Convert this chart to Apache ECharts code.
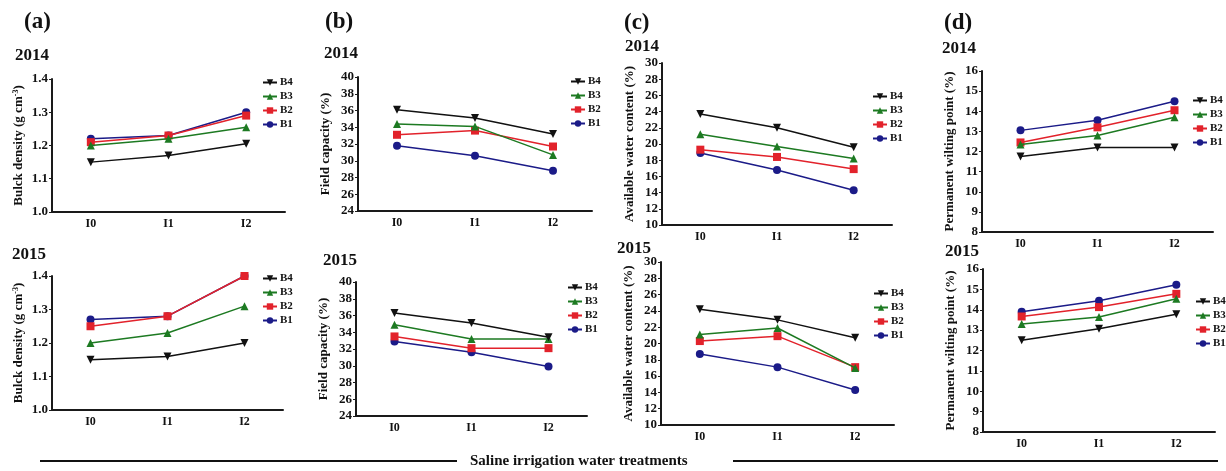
<!DOCTYPE html>
<html>
<head>
<meta charset="utf-8">
<script src="https://cdn.jsdelivr.net/npm/echarts@6/dist/echarts.min.js"></script>
<style>
  html, body { margin: 0; padding: 0; background: #fff; }
  #chart { width: 1226px; height: 471px; }
</style>
</head>
<body>
<div id="chart"></div>
<script>
// categories and series (order B4, B3, B2, B1)
const categories = ['I0', 'I1', 'I2']
const seriesNames = ['B4', 'B3', 'B2', 'B1']

// (a) bulk density, g cm-3
const bulk2014 = [
  [1.15, 1.17, 1.205],
  [1.20, 1.22, 1.255],
  [1.21, 1.23, 1.29],
  [1.22, 1.23, 1.30]
]
const bulk2015 = [
  [1.15, 1.16, 1.20],
  [1.20, 1.23, 1.31],
  [1.25, 1.28, 1.40],
  [1.27, 1.28, 1.40]
]
// (b) field capacity, %
const field2014 = [
  [36.1, 35.1, 33.2],
  [34.4, 34.1, 30.7],
  [33.1, 33.6, 31.7],
  [31.8, 30.6, 28.8]
]
const field2015 = [
  [36.3, 35.1, 33.4],
  [34.9, 33.2, 33.2],
  [33.5, 32.1, 32.1],
  [32.9, 31.6, 29.9]
]
// (c) available water content, %
const awc2014 = [
  [23.7, 22.0, 19.6],
  [21.2, 19.7, 18.2],
  [19.3, 18.4, 16.9],
  [18.9, 16.8, 14.3]
]
const awc2015 = [
  [24.2, 22.9, 20.7],
  [21.1, 21.9, 17.0],
  [20.3, 20.9, 17.1],
  [18.7, 17.1, 14.3]
]
// (d) permanent wilting point, %
const pwp2014 = [
  [11.75, 12.2, 12.2],
  [12.35, 12.8, 13.7],
  [12.45, 13.2, 14.05],
  [13.05, 13.55, 14.5]
]
const pwp2015 = [
  [12.5, 13.07, 13.78],
  [13.3, 13.64, 14.54],
  [13.67, 14.13, 14.78],
  [13.9, 14.44, 15.23]
]

const colors = ['#111111', '#1d7a22', '#e2222b', '#1b1b88']
const symbols = ['triangle', 'triangle', 'rect', 'circle']
const rotations = [180, 0, 0, 0]
const font = "'Liberation Serif', 'DejaVu Serif', serif"

const panels = [
  { data: bulk2014, min: 1.0, max: 1.4, interval: 0.1, dec: 1, name: 'Bulck density (g cm{sup|-3})',
    grid: { left: 52, top: 79, width: 233, height: 133 }, legend: { left: 262, top: 77 } },
  { data: bulk2015, min: 1.0, max: 1.4, interval: 0.1, dec: 1, name: 'Bulck density (g cm{sup|-3})',
    grid: { left: 52, top: 276, width: 231, height: 134 }, legend: { left: 262, top: 273 } },
  { data: field2014, min: 24, max: 40, interval: 2, dec: 0, name: 'Field capacity (%)',
    grid: { left: 358, top: 77, width: 234, height: 134 }, legend: { left: 570, top: 76 } },
  { data: field2015, min: 24, max: 40, interval: 2, dec: 0, name: 'Field capacity (%)',
    grid: { left: 356, top: 282, width: 231, height: 134 }, legend: { left: 567, top: 282 } },
  { data: awc2014, min: 10, max: 30, interval: 2, dec: 0, name: 'Available water content (%)',
    grid: { left: 662, top: 63, width: 230, height: 162 }, legend: { left: 872, top: 91 } },
  { data: awc2015, min: 10, max: 30, interval: 2, dec: 0, name: 'Available water content (%)',
    grid: { left: 661, top: 262, width: 233, height: 163 }, legend: { left: 873, top: 288 } },
  { data: pwp2014, min: 8, max: 16, interval: 1, dec: 0, name: 'Permanent wilting point (%)',
    grid: { left: 982, top: 71, width: 231, height: 161 }, legend: { left: 1192, top: 95 } },
  { data: pwp2015, min: 8, max: 16, interval: 1, dec: 0, name: 'Permanent wilting point (%)',
    grid: { left: 983, top: 269, width: 232, height: 163 }, legend: { left: 1195, top: 296 } }
]

const grid = []
const xAxis = []
const yAxis = []
const legend = []
const series = []

panels.forEach((p, i) => {
  grid.push(Object.assign({ containLabel: false }, p.grid))
  xAxis.push({
    type: 'category',
    gridIndex: i,
    data: categories,
    boundaryGap: true,
    axisLine: { lineStyle: { color: '#1a1a1a', width: 2 } },
    axisTick: { alignWithLabel: true, length: 3, lineStyle: { color: '#1a1a1a' } },
    axisLabel: { margin: 6, color: '#111', fontFamily: font, fontWeight: 'bold', fontSize: 12 }
  })
  yAxis.push({
    type: 'value',
    gridIndex: i,
    min: p.min,
    max: p.max,
    interval: p.interval,
    name: p.name,
    nameLocation: 'middle',
    nameGap: 26,
    nameTextStyle: {
      color: '#111', fontFamily: font, fontWeight: 'bold', fontSize: 13,
      rich: { sup: { fontSize: 8, fontFamily: font, fontWeight: 'bold', color: '#111', verticalAlign: 'top', padding: [0, 0, 6, 0] } }
    },
    splitLine: { show: false },
    axisLine: { show: true, lineStyle: { color: '#1a1a1a', width: 2 } },
    axisTick: { show: true, length: 3, lineStyle: { color: '#1a1a1a' } },
    axisLabel: {
      margin: 4, color: '#111', fontFamily: font, fontWeight: 'bold', fontSize: 13,
      formatter: v => v.toFixed(p.dec)
    }
  })
  legend.push({
    data: seriesNames,
    orient: 'vertical',
    left: p.legend.left,
    top: p.legend.top,
    itemWidth: 14,
    itemHeight: 8,
    itemGap: 3,
    padding: 0,
    selectedMode: false,
    textStyle: { color: '#111', fontFamily: font, fontWeight: 'bold', fontSize: 11, lineHeight: 9, padding: [0, 0, 0, -2] }
  })
  p.data.forEach((vals, k) => {
    series.push({
      name: seriesNames[k],
      type: 'line',
      xAxisIndex: i,
      yAxisIndex: i,
      data: vals,
      symbol: symbols[k],
      symbolRotate: rotations[k],
      symbolSize: 8,
      showAllSymbol: true,
      color: colors[k],
      lineStyle: { color: colors[k], width: 1.5 },
      itemStyle: { color: colors[k] },
      animation: false,
      z: 10 - k
    })
  })
})

const titleStyle = (text, x, y, size) => ({
  type: 'text',
  left: x,
  top: y,
  style: { text: text, fill: '#111', font: `bold ${size}px ${font}` }
})

const graphic = [
  titleStyle('(a)', 24, 11, 23),
  titleStyle('(b)', 325, 11, 23),
  titleStyle('(c)', 624, 12, 23),
  titleStyle('(d)', 944, 12, 23),
  titleStyle('2014', 15, 47, 17),
  titleStyle('2014', 324, 45, 17),
  titleStyle('2014', 625, 38, 17),
  titleStyle('2014', 942, 40, 17),
  titleStyle('2015', 12, 246, 17),
  titleStyle('2015', 323, 252, 17),
  titleStyle('2015', 617, 240, 17),
  titleStyle('2015', 945, 243, 17),
  titleStyle('Saline irrigation water treatments', 470, 454, 15),
  { type: 'line', shape: { x1: 40, y1: 461, x2: 457, y2: 461 }, style: { stroke: '#111', lineWidth: 2 } },
  { type: 'line', shape: { x1: 733, y1: 461, x2: 1218, y2: 461 }, style: { stroke: '#111', lineWidth: 2 } }
]

const chart = echarts.init(document.getElementById('chart'), null, { renderer: 'canvas' })
chart.setOption({
  backgroundColor: '#fff',
  animation: false,
  textStyle: { fontFamily: font },
  grid, xAxis, yAxis, legend, series, graphic
})
</script>
</body>
</html>
